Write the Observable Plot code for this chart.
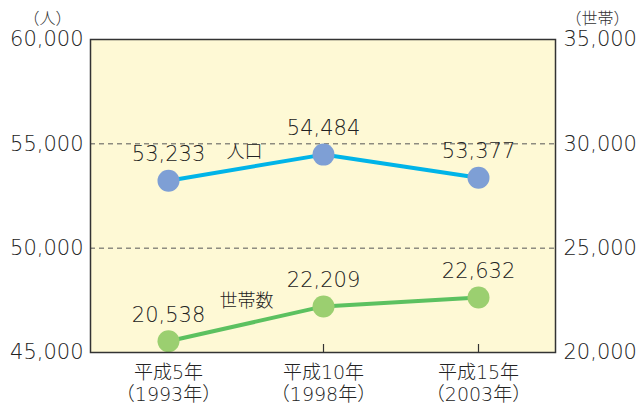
<!DOCTYPE html>
<html><head><meta charset="utf-8">
<script src="https://cdn.jsdelivr.net/npm/d3@7"></script>
<script src="https://cdn.jsdelivr.net/npm/@observablehq/plot@0.6"></script>
<style>
body{margin:0;background:#fff;}
</style></head>
<body><div id="chart"></div>
<script>
const categories = ["平成5年\n（1993年）", "平成10年\n（1998年）", "平成15年\n（2003年）"];
const population = [53233, 54484, 53377];
const households = [20538, 22209, 22632];
const leftTicks = [45000, 50000, 55000, 60000];
const rightTicks = [20000, 25000, 30000, 35000];
const offset = 25000; // right axis = left axis - 25000

const fmt = d3.format(",");
const popData = categories.map((c, i) => ({x: c, y: population[i], v: population[i]}));
const hhData = categories.map((c, i) => ({x: c, y: households[i] + offset, v: households[i]}));
const font = "'DejaVu Sans', 'Noto Sans CJK JP', sans-serif";

const chart = Plot.plot({
  width: 640, height: 410,
  marginLeft: 90, marginRight: 85, marginTop: 39, marginBottom: 58,
  style: {fontFamily: font, fontSize: "19px", color: "#333", background: "#fff"},
  x: {type: "point", domain: categories, padding: 0.5, label: null},
  y: {domain: [45000, 60000], label: null},
  marks: [
    Plot.frame({fill: "#fef9d5", stroke: null}),
    Plot.ruleY([50000, 55000], {stroke: "#555", strokeDasharray: "5,4", strokeWidth: 1}),
    Plot.axisY({ticks: leftTicks, tickSize: 0, tickPadding: 7, tickFormat: fmt, label: null, fontSize: 21, fontWeight: 200, fill: "#222"}),
    Plot.axisY({anchor: "right", ticks: rightTicks.map(d => d + offset), tickSize: 0, tickPadding: 8, tickFormat: d => fmt(d - offset), label: null, fontSize: 21, fontWeight: 200, fill: "#222"}),
    Plot.axisX({tickSize: -8, text: null, label: null, stroke: "#333", strokeWidth: 1.2}),
    Plot.axisX({tickSize: 0, tickPadding: 10, label: null, fontSize: 19, lineHeight: 1.2, fontWeight: 200, fill: "#222"}),
    Plot.line(popData, {x: "x", y: "y", stroke: "#00b4e8", strokeWidth: 4}),
    Plot.line(hhData, {x: "x", y: "y", stroke: "#5cc160", strokeWidth: 4}),
    Plot.dot(popData, {x: "x", y: "y", r: 11, fill: "#7e9fd5"}),
    Plot.dot(hhData, {x: "x", y: "y", r: 11, fill: "#9bcf70"}),
    Plot.text(popData, {x: "x", y: "y", text: d => fmt(d.v), dy: -26, fontSize: 21, fontWeight: 200, fill: "#222"}),
    Plot.text(hhData, {x: "x", y: "y", text: d => fmt(d.v), dy: -26, fontSize: 21, fontWeight: 200, fill: "#222"}),
    Plot.text([popData[0]], {x: "x", y: "y", text: () => "人口", dx: 76, dy: -28, fontSize: 18, fontWeight: 300, fill: "#222"}),
    Plot.text([hhData[0]], {x: "x", y: "y", text: () => "世帯数", dx: 78, dy: -40, fontSize: 18, fontWeight: 300, fill: "#222"}),
    Plot.text(["（人）"], {frameAnchor: "top-left", text: d => d, textAnchor: "middle", dx: -43, dy: -27, fontSize: 16, fontWeight: 200, fill: "#333"}),
    Plot.text(["（世帯）"], {frameAnchor: "top-right", text: d => d, textAnchor: "middle", dx: 42, dy: -27, fontSize: 16, fontWeight: 200, fill: "#333"}),
    Plot.frame({stroke: "#333", strokeWidth: 1.5})
  ]
});
document.getElementById("chart").appendChild(chart);
</script>
</body></html>
